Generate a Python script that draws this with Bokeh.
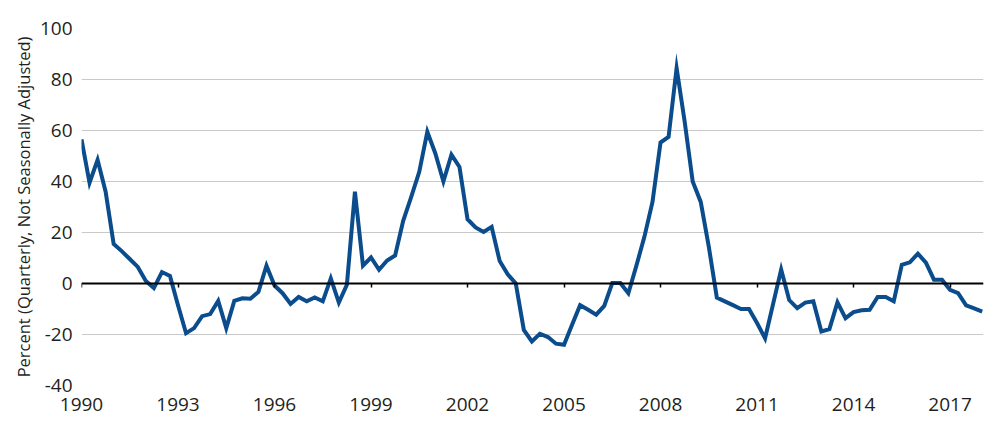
from bokeh.plotting import figure
from bokeh.models import Range1d, LinearAxis, FixedTicker
from bokeh.embed import file_html
from bokeh.resources import INLINE

# Quarterly values, 1990Q1 .. 2018Q1
start_year = 1990
values = [
    56.5, 39.5, 48.5, 36.0, 15.5, 12.7, 9.6, 6.5, 1.0, -1.8,
    4.5, 3.0, -8.5, -19.5, -17.5, -12.8, -12.0, -6.8, -17.5, -6.8,
    -5.8, -6.0, -3.3, 7.0, -0.8, -3.8, -8.0, -5.3, -7.0, -5.5,
    -7.0, 2.0, -7.5, -0.5, 36.0, 7.0, 10.2, 5.4, 9.0, 11.0,
    24.6, 34.0, 43.8, 59.5, 51.0, 40.0, 50.5, 45.7, 25.2, 22.0,
    20.2, 22.2, 8.8, 3.6, 0.0, -18.2, -22.7, -19.7, -21.0, -23.6,
    -24.0, -16.2, -8.5, -10.3, -12.2, -8.8, 0.2, 0.2, -3.8, 7.0,
    18.4, 32.0, 55.3, 57.5, 84.5, 63.5, 40.0, 32.0, 14.5, -5.5,
    -7.0, -8.5, -10.0, -10.0, -15.5, -21.5, -8.0, 5.5, -6.5, -9.7,
    -7.5, -7.0, -18.8, -17.9, -7.4, -13.6, -11.2, -10.5, -10.3, -5.3,
    -5.3, -7.0, 7.3, 8.3, 11.7, 8.2, 1.5, 1.5, -2.5, -3.8,
    -8.6, -9.8, -11.0,
]
quarters = [start_year + i / 4 for i in range(len(values))]

x_ticks = [1990, 1993, 1996, 1999, 2002, 2005, 2008, 2011, 2014, 2017]
y_ticks = [-40, -20, 0, 20, 40, 60, 80, 100]
y_label = "Percent (Quarterly, Not Seasonally Adjusted)"

FONT = "Open Sans"
TEXT_COLOR = "#231f20"
LINE_COLOR = "#0b4c8c"

p = figure(
    width=1000, height=436,
    output_backend="svg", toolbar_location=None,
    x_range=Range1d(1990, 2018.04), y_range=Range1d(-40, 100),
    min_border_left=81, min_border_right=17,
    min_border_top=28, min_border_bottom=51,
)
p.outline_line_color = None
p.background_fill_color = "white"
p.border_fill_color = "white"

# grid
p.xgrid.visible = False
p.ygrid.ticker = FixedTicker(ticks=y_ticks)
p.ygrid.grid_line_color = "#c9c9c9"
p.ygrid.grid_line_width = 1

# bottom axis (labels only)
xa = p.xaxis[0]
xa.ticker = FixedTicker(ticks=x_ticks)
xa.axis_line_color = None
xa.major_tick_line_color = None
xa.minor_tick_line_color = None
xa.major_tick_out = 0
xa.major_tick_in = 0
xa.major_label_standoff = 12
xa.major_label_text_font = FONT
xa.major_label_text_font_size = "19px"
xa.major_label_text_color = TEXT_COLOR

# left axis
ya = p.yaxis[0]
ya.ticker = FixedTicker(ticks=y_ticks)
ya.major_label_overrides = {t: str(t) for t in y_ticks}
ya.axis_line_color = None
ya.major_tick_line_color = None
ya.minor_tick_line_color = None
ya.major_tick_out = 0
ya.major_tick_in = 0
ya.major_label_standoff = 9
ya.major_label_text_font = FONT
ya.major_label_text_font_size = "19px"
ya.major_label_text_color = TEXT_COLOR
ya.axis_label = y_label
ya.axis_label_text_font = FONT
ya.axis_label_text_font_size = "16.5px"
ya.axis_label_text_font_style = "normal"
ya.axis_label_text_color = TEXT_COLOR
ya.axis_label_standoff = 2

# zero line with tick marks (no labels drawn)
zero_axis = LinearAxis(
    fixed_location=0,
    ticker=FixedTicker(ticks=x_ticks),
    axis_line_color="black", axis_line_width=2,
    major_tick_line_color="black", major_tick_line_width=1.5,
    major_tick_out=4, major_tick_in=0,
    minor_tick_line_color=None,
    major_label_text_color=None,
    major_label_text_font_size="8px",
    major_label_standoff=0,
)
p.add_layout(zero_axis, "below")

p.line(quarters, values, line_color=LINE_COLOR, line_width=4, line_join="miter")

open("out.html", "w").write(file_html(p, INLINE))
